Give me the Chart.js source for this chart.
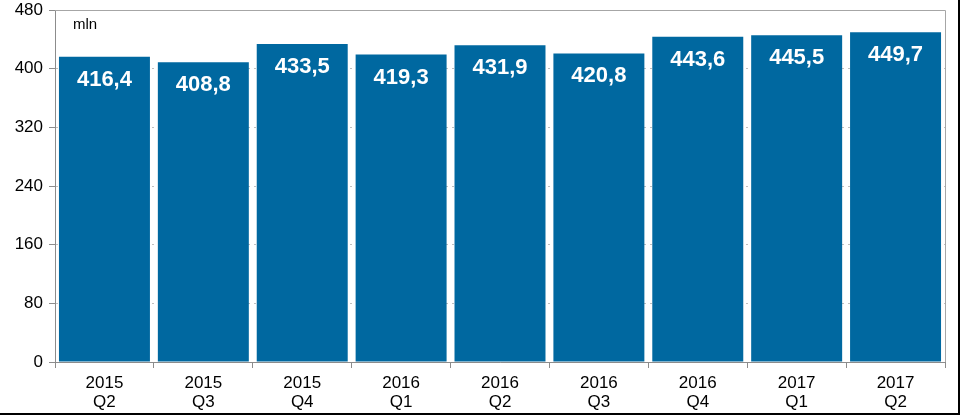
<!DOCTYPE html>
<html>
<head>
<meta charset="utf-8">
<script src="https://cdn.jsdelivr.net/npm/chart.js@4"></script>
<style>
html,body{margin:0;padding:0;background:#fff;}
#wrap{width:961px;height:415px;position:relative;}
</style>
</head>
<body>
<div id="wrap"><canvas id="c" width="961" height="415"></canvas></div>
<script>
const categories = [["2015","Q2"],["2015","Q3"],["2015","Q4"],["2016","Q1"],["2016","Q2"],["2016","Q3"],["2016","Q4"],["2017","Q1"],["2017","Q2"]];
const values = [416.4, 408.8, 433.5, 419.3, 431.9, 420.8, 443.6, 445.5, 449.7];
const valueLabels = ["416,4","408,8","433,5","419,3","431,9","420,8","443,6","445,5","449,7"];
const yTicks = [0, 80, 160, 240, 320, 400, 480];
const unitLabel = "mln";

const FONT = "'Liberation Sans', Arial, sans-serif";

const framePlugin = {
  id: 'frame',
  beforeDatasetsDraw(chart) {
    const {ctx, chartArea: a} = chart;
    ctx.save();
    ctx.strokeStyle = '#a6a6a6';
    ctx.lineWidth = 1;
    ctx.beginPath();
    ctx.moveTo(a.left, Math.round(a.top) + 0.5);
    ctx.lineTo(Math.round(a.right) + 0.5, Math.round(a.top) + 0.5);
    ctx.lineTo(Math.round(a.right) + 0.5, a.bottom);
    ctx.stroke();
    ctx.restore();
  },
  afterDraw(chart) {
    const {ctx, chartArea: a} = chart;
    ctx.save();
    const meta = chart.getDatasetMeta(0);
    ctx.fillStyle = '#ffffff';
    ctx.font = "bold 22px " + FONT;
    ctx.textAlign = 'center';
    ctx.textBaseline = 'middle';
    meta.data.forEach((bar, i) => {
      ctx.fillText(valueLabels[i], bar.x, bar.y + 23);
    });
    ctx.fillStyle = '#000';
    ctx.font = "15px " + FONT;
    ctx.textAlign = 'left';
    ctx.fillText(unitLabel, a.left + 18, a.top + 15);
    ctx.strokeStyle = '#000';
    ctx.lineWidth = 2;
    ctx.beginPath();
    ctx.moveTo(0, 414);
    ctx.lineTo(959, 414);
    ctx.lineTo(959, 0);
    ctx.stroke();
    ctx.restore();
  }
};

new Chart(document.getElementById('c'), {
  type: 'bar',
  data: {
    labels: categories,
    datasets: [{
      data: values,
      backgroundColor: '#0068a0',
      borderWidth: 0,
      barPercentage: 0.92,
      categoryPercentage: 1.0
    }]
  },
  options: {
    responsive: false,
    animation: false,
    devicePixelRatio: 1,
    layout: { padding: { top: 10, right: 16, left: 0, bottom: 0 } },
    plugins: { legend: { display: false }, tooltip: { enabled: false } },
    scales: {
      x: {
        afterFit(s) { s.height = 53; s.paddingLeft = 0; s.paddingRight = 0; },
        grid: { offset: true, drawOnChartArea: false, color: '#8c8c8c', tickLength: 6 },
        border: { color: '#8c8c8c', width: 1 },
        ticks: { color: '#000', font: { family: FONT, size: 17, lineHeight: 1.1 }, padding: 6, maxRotation: 0, autoSkip: false }
      },
      y: {
        min: 0, max: 480,
        afterFit(s) { s.width = 55; s.paddingTop = 0; s.paddingBottom = 0; },
        afterBuildTicks(s) { s.ticks = yTicks.map(v => ({ value: v })); },
        grid: { color: '#bfbfbf', tickColor: '#8c8c8c', tickLength: 6 },
        border: { color: '#8c8c8c', width: 1, dash: [2, 4] },
        ticks: { color: '#000', font: { family: FONT, size: 17 }, padding: 6 }
      }
    }
  },
  plugins: [framePlugin]
});
</script>
</body>
</html>
